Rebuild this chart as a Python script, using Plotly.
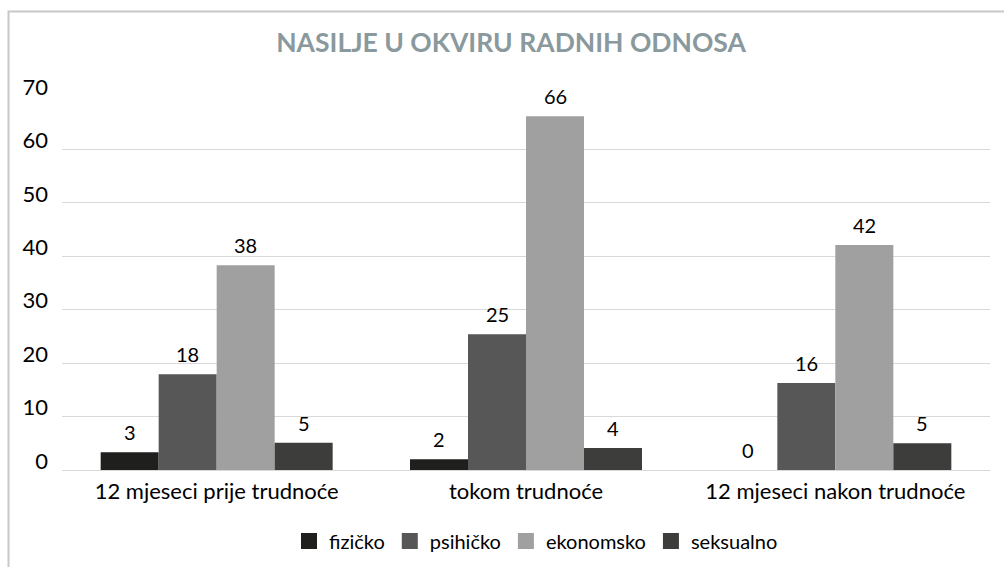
import plotly.graph_objects as go

categories = ["12 mjeseci prije trudnoće", "tokom trudnoće", "12 mjeseci nakon trudnoće"]
series_names = ["fizičko", "psihičko", "ekonomsko", "seksualno"]
fizicko = [3.3, 2.0, 0.0]
psihicko = [17.9, 25.4, 16.3]
ekonomsko = [38.3, 66.2, 42.1]
seksualno = [5.1, 4.1, 5.0]
y_ticks = [0, 10, 20, 30, 40, 50, 60, 70]

colors = ["#1f1f1d", "#575757", "#a0a0a0", "#3d3d3b"]
series = [fizicko, psihicko, ekonomsko, seksualno]

FONT = "Lato"
W, H = 1004, 567
ml, mr, mt, mb = 62, 14, 96, 97
BARGAP = 0.25

pw = W - ml - mr
ph = H - mt - mb
def px_x(x):
    return (x - ml) / pw
def px_y(y):
    return (H - mb - y) / ph

n_series = len(series)
bar_px = pw / len(categories) * (1 - BARGAP) / n_series

fig = go.Figure()
annotations = []
for k, (name, vals, col) in enumerate(zip(series_names, series, colors)):
    fig.add_trace(go.Bar(
        name=name, x=categories, y=vals, marker_color=col,
        marker_line_width=0, showlegend=False,
    ))
    # legend swatch (square marker)
    fig.add_trace(go.Scatter(
        name=name, x=[None], y=[None], mode="markers",
        marker=dict(symbol="square", size=18, color=col),
        showlegend=True, hoverinfo="skip",
    ))
    for cat, v in zip(categories, vals):
        annotations.append(dict(
            x=cat, y=v, xref="x", yref="y", text=f"{v:.0f}", showarrow=False,
            xanchor="center", yanchor="bottom",
            xshift=(k - (n_series - 1) / 2) * bar_px, yshift=6,
            font=dict(size=20, color="#000000", family=FONT),
        ))

fig.update_layout(
    width=W, height=H,
    margin=dict(l=ml, r=mr, t=mt, b=mb, autoexpand=False),
    paper_bgcolor="white", plot_bgcolor="white",
    barmode="group", bargap=BARGAP, bargroupgap=0,
    font=dict(family=FONT, color="#000000"),
    title=dict(text="<b>NASILJE U OKVIRU RADNIH ODNOSA</b>",
               x=0.509, xanchor="center", y=1 - 43 / H, yanchor="middle",
               font=dict(size=26.5, color="#8a999d", family=FONT)),
    showlegend=True,
    legend=dict(orientation="h", x=px_x(536), xanchor="center",
                y=px_y(541), yanchor="middle",
                font=dict(size=20, family=FONT), itemwidth=30,
                traceorder="normal"),
    xaxis=dict(showgrid=False, showline=True, linecolor="#d9d9d9", linewidth=1,
               ticks="", tickfont=dict(size=22, family=FONT), ticklabelstandoff=2),
    yaxis=dict(range=[0, 70], tickvals=y_ticks, showgrid=True, gridcolor="#d9d9d9",
               gridwidth=1, zeroline=False, showline=False, ticks="",
               tickfont=dict(size=22, family=FONT), ticklabelstandoff=13,
               ticklabelshift=-9),
    annotations=annotations,
    shapes=[dict(type="rect", xref="paper", yref="paper",
                 x0=px_x(8.5), x1=px_x(1012), y0=px_y(580), y1=px_y(11.5),
                 line=dict(color="#c8c8c8", width=2), fillcolor="rgba(0,0,0,0)",
                 layer="below")],
)

fig.write_html("out.html", config={"displayModeBar": False},
               post_script="document.body.style.margin='0';document.body.style.overflow='hidden';")
